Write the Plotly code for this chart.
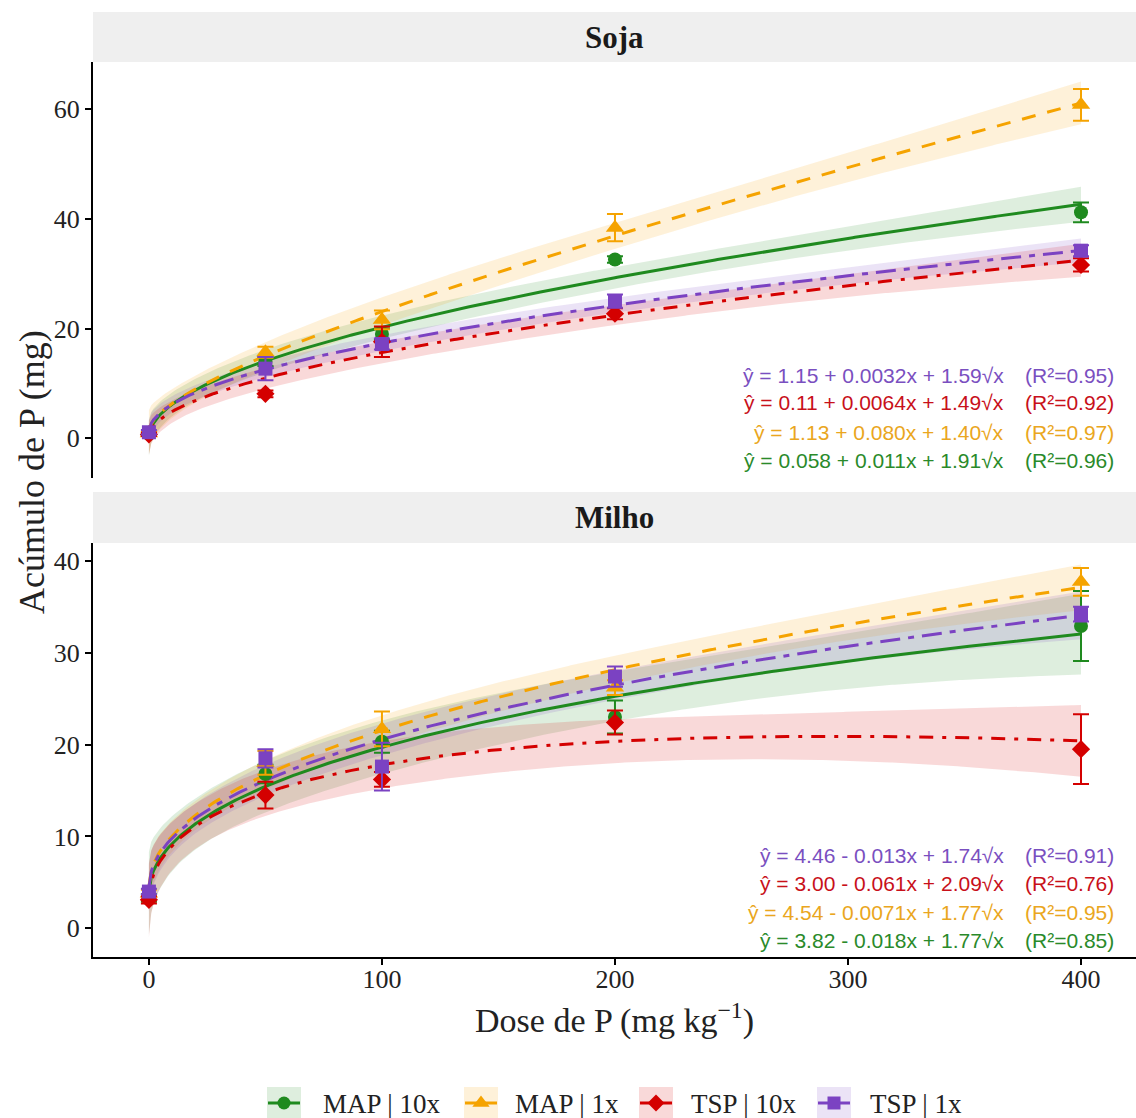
import numpy as np
import plotly.graph_objects as go

# ---------------------------------------------------------------- data
doses = [0, 50, 100, 200, 400]
series = ["MAP | 10x", "MAP | 1x", "TSP | 10x", "TSP | 1x"]

# Soja: mean P accumulation (mg) and error half-widths
soja_map10 = [0.8, 14.0, 19.0, 32.6, 41.2]
soja_map1 = [0.9, 15.7, 21.6, 38.4, 60.8]
soja_tsp10 = [0.7, 8.1, 17.6, 22.7, 31.6]
soja_tsp1 = [1.1, 12.7, 17.2, 25.0, 34.2]
soja_map10_err = [0.3, 0.8, 1.0, 0.6, 1.8]
soja_map1_err = [0.3, 1.0, 1.7, 2.5, 2.9]
soja_tsp10_err = [0.3, 0.6, 2.8, 1.0, 1.2]
soja_tsp1_err = [0.4, 2.1, 1.0, 1.2, 1.0]

# Milho: mean P accumulation (mg) and error half-widths
milho_map10 = [3.3, 16.8, 20.3, 23.0, 32.9]
milho_map1 = [3.8, 18.0, 21.7, 26.2, 37.7]
milho_tsp10 = [3.1, 14.5, 16.2, 22.4, 19.5]
milho_tsp1 = [4.0, 18.5, 17.6, 27.4, 34.2]
milho_map10_err = [0.4, 1.0, 1.2, 1.8, 3.8]
milho_map1_err = [0.4, 1.3, 1.9, 0.8, 1.5]
milho_tsp10_err = [0.4, 1.45, 0.8, 1.3, 3.8]
milho_tsp1_err = [0.3, 1.0, 2.6, 1.1, 0.8]

# Fitted model y = b0 + b1*x + b2*sqrt(x)  (order: MAP10x, MAP1x, TSP10x, TSP1x)
soja_b0 = ["0.058", "1.13", "0.11", "1.15"]
soja_b1 = ["0.011", "0.080", "0.0064", "0.0032"]
soja_b2 = ["1.91", "1.40", "1.49", "1.59"]
soja_r2 = ["0.96", "0.97", "0.92", "0.95"]

milho_b0 = ["3.82", "4.54", "3.00", "4.46"]
milho_b1 = ["-0.018", "-0.0071", "-0.061", "-0.013"]
milho_b2 = ["1.77", "1.77", "2.09", "1.74"]
milho_r2 = ["0.85", "0.95", "0.76", "0.91"]

# half-width of the confidence band at the highest dose
soja_band400 = [3.2, 3.9, 3.0, 2.2]
milho_band400 = [4.4, 2.5, 3.9, 2.6]

# ---------------------------------------------------------------- styles
colors = ["#1f8a1f", "#f5a300", "#d40000", "#7b42c2"]
fills = ["rgba(31,138,31,0.15)", "rgba(245,163,0,0.15)",
         "rgba(212,0,0,0.15)", "rgba(123,66,194,0.15)"]
text_colors = ["#2a8a2a", "#eaa620", "#c8101a", "#7a4fc0"]
symbols = ["circle", "triangle-up", "diamond", "square"]
msizes = [14, 16, 14, 14]
dashes = ["solid", "14px,12px", "14px,9px,4px,9px", "20px,8px,6px,8px"]

SERIF = "Liberation Serif, Times New Roman, serif"
SANS = "Liberation Sans, Arial, sans-serif"

W, H = 1136, 1118

# Leverage of the sqrt model over the dose design, for the band shape
X = np.column_stack([np.ones(len(doses)), doses, np.sqrt(doses)])
A_inv = np.linalg.inv(X.T @ X)
xg = np.linspace(0, 400, 401)
F = np.column_stack([np.ones_like(xg), xg, np.sqrt(xg)])
lev = np.einsum("ij,jk,ik->i", F, A_inv, F)
lev_rel = np.sqrt(lev / lev[-1])

fig = go.Figure()

panels = [
    dict(xa="x2", ya="y2",
         means=[soja_map10, soja_map1, soja_tsp10, soja_tsp1],
         errs=[soja_map10_err, soja_map1_err, soja_tsp10_err, soja_tsp1_err],
         b0=soja_b0, b1=soja_b1, b2=soja_b2, band=soja_band400),
    dict(xa="x", ya="y",
         means=[milho_map10, milho_map1, milho_tsp10, milho_tsp1],
         errs=[milho_map10_err, milho_map1_err, milho_tsp10_err, milho_tsp1_err],
         b0=milho_b0, b1=milho_b1, b2=milho_b2, band=milho_band400),
]

for p in panels:
    curves = []
    for i in range(4):
        yfit = float(p["b0"][i]) + float(p["b1"][i]) * xg + float(p["b2"][i]) * np.sqrt(xg)
        curves.append(yfit)
        half = p["band"][i] * lev_rel
        fig.add_trace(go.Scatter(x=xg, y=yfit - half, mode="lines", line=dict(width=0),
                                 xaxis=p["xa"], yaxis=p["ya"], showlegend=False,
                                 hoverinfo="skip"))
        fig.add_trace(go.Scatter(x=xg, y=yfit + half, mode="lines", line=dict(width=0),
                                 fill="tonexty", fillcolor=fills[i],
                                 xaxis=p["xa"], yaxis=p["ya"], showlegend=False,
                                 hoverinfo="skip"))
    for i in range(4):
        fig.add_trace(go.Scatter(x=xg, y=curves[i], mode="lines",
                                 line=dict(color=colors[i], width=3, dash=dashes[i]),
                                 xaxis=p["xa"], yaxis=p["ya"], showlegend=False))
    for i in range(4):
        fig.add_trace(go.Scatter(x=doses, y=p["means"][i], mode="markers",
                                 marker=dict(symbol=symbols[i], size=msizes[i], color=colors[i]),
                                 error_y=dict(type="data", array=p["errs"][i], color=colors[i],
                                              thickness=2, width=8),
                                 xaxis=p["xa"], yaxis=p["ya"], showlegend=False))

# ---------------------------------------------------------------- legend (pixel overlay axis)
key_cx = [284, 481, 656, 834]
key_text_x = [321, 513, 689, 868]
key_cy = 1103
shapes = []
annotations = []
for i in range(4):
    shapes.append(dict(type="rect", xref="x3", yref="y3",
                       x0=key_cx[i] - 17, x1=key_cx[i] + 17, y0=key_cy - 16, y1=key_cy + 17,
                       fillcolor=fills[i], line=dict(width=0), layer="below"))
    fig.add_trace(go.Scatter(x=[key_cx[i] - 16, key_cx[i] + 16], y=[key_cy, key_cy],
                             mode="lines", line=dict(color=colors[i], width=3),
                             xaxis="x3", yaxis="y3", showlegend=False, hoverinfo="skip",
                             cliponaxis=False))
    fig.add_trace(go.Scatter(x=[key_cx[i]], y=[key_cy], mode="markers",
                             marker=dict(symbol=symbols[i], size=msizes[i] - 1, color=colors[i]),
                             xaxis="x3", yaxis="y3", showlegend=False, hoverinfo="skip",
                             cliponaxis=False))
    annotations.append(dict(text=series[i], xref="x3", yref="y3", x=key_text_x[i], y=key_cy + 1,
                            xanchor="left", yanchor="middle", showarrow=False,
                            font=dict(family=SERIF, size=27, color="#222")))

# ---------------------------------------------------------------- layout
def py(px):
    return 1 - px / H

def pxx(px):
    return px / W

x_dom = [pxx(93), 1.0]
axis_common = dict(showgrid=False, zeroline=False, showline=True, linecolor="black",
                   linewidth=2, ticks="outside", ticklen=6, tickwidth=1.5,
                   tickcolor="black", tickfont=dict(family=SERIF, size=26, color="#222"))

fig.update_layout(
    width=W, height=H,
    margin=dict(l=0, r=0, t=0, b=0),
    paper_bgcolor="white", plot_bgcolor="rgba(0,0,0,0)",
    xaxis=dict(domain=x_dom, anchor="y", range=[-24, 423.6],
               tickvals=[0, 100, 200, 300, 400], ticklabelstandoff=-8, **axis_common),
    xaxis2=dict(domain=x_dom, anchor="y2", range=[-24, 423.6], matches="x",
                visible=False),
    yaxis=dict(domain=[py(957), py(543)], anchor="x", range=[-3.12, 41.93],
               tickvals=[0, 10, 20, 30, 40], **axis_common),
    yaxis2=dict(domain=[py(478), py(62)], anchor="x2", range=[-7.24, 68.6],
                tickvals=[0, 20, 40, 60], **axis_common),
    xaxis3=dict(domain=[0, 1], anchor="y3", range=[0, W], visible=False, fixedrange=True),
    yaxis3=dict(domain=[0, 1], anchor="x3", range=[H, 0], visible=False, fixedrange=True),
    showlegend=False,
)

# facet strips
for (top, bot, label) in [(12, 62, "Soja"), (492, 543, "Milho")]:
    shapes.append(dict(type="rect", xref="paper", yref="paper",
                       x0=x_dom[0], x1=1.0, y0=py(bot), y1=py(top),
                       fillcolor="#efefef", line=dict(width=0), layer="below"))
    annotations.append(dict(text="<b>" + label + "</b>", xref="paper", yref="paper",
                            x=(x_dom[0] + 1) / 2, y=py((top + bot) / 2),
                            showarrow=False, font=dict(family=SERIF, size=31, color="#1a1a1a"),
                            xanchor="center", yanchor="middle"))


def coef_text(b0, b1, b2):
    s1 = "-" if b1.startswith("-") else "+"
    return "ŷ = %s %s %sx + %s√x" % (b0, s1, b1.lstrip("-"), b2)


eq_rows = [
    (soja_b0, soja_b1, soja_b2, soja_r2, [460, 432, 403, 375]),
    (milho_b0, milho_b1, milho_b2, milho_r2, [940, 912, 883, 855]),
]
for b0, b1, b2, r2, rows in eq_rows:
    for i in range(4):
        annotations.append(dict(text=coef_text(b0[i], b1[i], b2[i]), xref="paper", yref="paper",
                                x=pxx(1006), y=py(rows[i]), xanchor="right", yanchor="middle",
                                showarrow=False,
                                font=dict(family=SANS, size=21, color=text_colors[i])))
        annotations.append(dict(text="(R²=%s)" % r2[i], xref="paper", yref="paper",
                                x=pxx(1116), y=py(rows[i]), xanchor="right", yanchor="middle",
                                showarrow=False,
                                font=dict(family=SANS, size=21, color=text_colors[i])))

# axis titles
annotations.append(dict(text="Acúmulo de P (mg)", xref="paper", yref="paper",
                        x=pxx(32), y=py(472), textangle=-90, showarrow=False,
                        xanchor="center", yanchor="middle",
                        font=dict(family=SERIF, size=36, color="#222")))
annotations.append(dict(text="Dose de P (mg kg<sup>−1</sup>)", xref="paper", yref="paper",
                        x=pxx(614), y=py(1018), showarrow=False,
                        xanchor="center", yanchor="middle",
                        font=dict(family=SERIF, size=34, color="#222")))

fig.update_layout(shapes=shapes, annotations=annotations)

fig.write_html("out.html")
